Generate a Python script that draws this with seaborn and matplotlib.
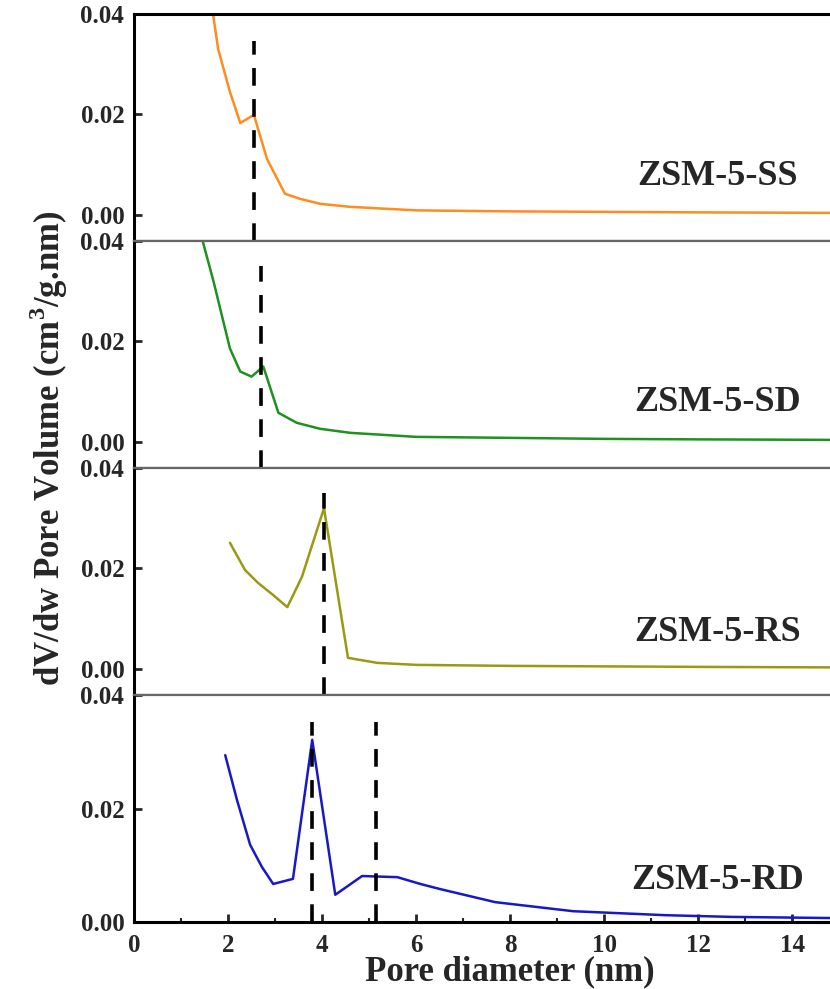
import matplotlib
matplotlib.use("Agg")
import numpy as np
import pandas as pd
import matplotlib.pyplot as plt
import seaborn as sns
from matplotlib.ticker import MultipleLocator

# Pore size distributions
ss_d = [1.60, 1.68, 1.79, 2.04, 2.26, 2.55, 2.83, 3.21, 3.53, 3.96, 4.60, 6.00, 8.00, 10.0, 12.0, 14.8]
ss_v = [0.046, 0.0400, 0.0330, 0.0245, 0.0183, 0.0199, 0.0111, 0.0042, 0.0032, 0.0022, 0.0016,
        0.0009, 0.0007, 0.0006, 0.0005, 0.0004]

sd_d = [1.40, 1.46, 1.69, 2.04, 2.26, 2.50, 2.75, 3.07, 3.46, 3.96, 4.60, 6.00, 8.00, 10.0, 12.0, 14.8]
sd_v = [0.043, 0.0400, 0.0320, 0.0186, 0.0140, 0.0130, 0.0150, 0.0058, 0.0038, 0.0026, 0.0018,
        0.0010, 0.0008, 0.0006, 0.0005, 0.0004]

rs_d = [2.04, 2.36, 2.64, 2.96, 3.26, 3.57, 4.04, 4.55, 5.17, 6.00, 8.00, 10.0, 12.0, 14.8]
rs_v = [0.0251, 0.0197, 0.0171, 0.0147, 0.0123, 0.0183, 0.0320, 0.0022, 0.0012, 0.0008,
        0.0006, 0.0005, 0.0004, 0.0003]

rd_d = [1.94, 2.19, 2.47, 2.72, 2.96, 3.38, 3.79, 4.28, 4.85, 5.60, 6.09, 6.51, 7.68, 9.34,
        11.3, 12.7, 14.8]
rd_v = [0.0294, 0.0215, 0.0136, 0.0097, 0.0067, 0.0076, 0.0321, 0.0048, 0.0081, 0.0079,
        0.0067, 0.0058, 0.0035, 0.0019, 0.0012, 0.0009, 0.0007]

names = ["ZSM-5-SS", "ZSM-5-SD", "ZSM-5-RS", "ZSM-5-RD"]
colors = ["#ff8c1e", "#1e9120", "#9a9a12", "#1818c8"]
peaks = [[2.55], [2.70], [4.03], [3.79, 5.14]]
peak_tops = [0.0346, 0.0350, 0.0350, 0.0352]

data = [(ss_d, ss_v), (sd_d, sd_v), (rs_d, rs_v), (rd_d, rd_v)]

sns.set_theme(style="ticks")
plt.rcParams['font.family'] = ['Liberation Serif', 'DejaVu Serif']
plt.rcParams['font.weight'] = 'bold'
plt.rcParams['mathtext.fontset'] = 'custom'
plt.rcParams['mathtext.bf'] = 'Liberation Serif:bold'
plt.rcParams['mathtext.rm'] = 'Liberation Serif:bold'

fig, axes = plt.subplots(4, 1, figsize=(8.3, 9.89), dpi=100, sharex=True)
fig.subplots_adjust(left=134 / 830, right=1.0, top=1 - 14 / 989, bottom=1 - 922 / 989, hspace=0)

label_y = [0.285, 0.289, 0.276, 0.185]

for i, ax in enumerate(axes):
    d, v = data[i]
    df = pd.DataFrame({"d": d, "v": v})
    sns.lineplot(data=df, x="d", y="v", ax=ax, color=colors[i], linewidth=1.8,
                 estimator=None, sort=False)

    # vertical dashed markers at the peaks
    lo = -0.0052 if i < 3 else 0.0
    for p in peaks[i]:
        ax.vlines(p, lo, peak_tops[i], colors="black", linewidth=2.6,
                  linestyles=(0, (4.9, 3.7)), zorder=3)

    ax.set_xlim(0, 14.8)
    ax.set_ylim(lo, 0.04)
    ax.set_yticks([0.0, 0.02, 0.04])
    ax.set_yticklabels(["0.00", "0.02", "0.04"])
    ax.set_xlabel("")
    ax.set_ylabel("")

    ax.text(0.838, label_y[i], names[i], transform=ax.transAxes, ha="center", va="center",
            fontsize=26, fontweight="bold")

    ax.tick_params(axis="y", direction="in", length=6, width=2, labelsize=18, pad=7)
    ax.spines["right"].set_visible(False)
    for s in ["left", "top", "bottom"]:
        ax.spines[s].set_linewidth(2.2)
        ax.spines[s].set_color("black")
    if i > 0:
        ax.spines["top"].set_color("#666666")
        ax.spines["top"].set_linewidth(1.6)
    if i < 3:
        ax.spines["bottom"].set_color("#666666")
        ax.spines["bottom"].set_linewidth(1.6)
        ax.tick_params(axis="x", which="both", bottom=False, labelbottom=False)

bax = axes[-1]
bax.set_xticks(np.arange(0, 15, 2))
bax.xaxis.set_minor_locator(MultipleLocator(1))
bax.tick_params(axis="x", which="major", direction="in", length=6, width=2, labelsize=18, pad=9)
bax.tick_params(axis="x", which="minor", direction="in", length=3, width=1.5)

fig.text(510 / 830, 1 - 972 / 989, "Pore diameter (nm)", ha="center", va="center",
         fontsize=25, fontweight="bold")
fig.text(49 / 830, 1 - 448 / 989, r"dV/dw Pore Volume (cm$^{\mathbf{3}}$/g.nm)", rotation=90,
         ha="center", va="center", fontsize=25, fontweight="bold")

fig.savefig("out.png", dpi=100)
